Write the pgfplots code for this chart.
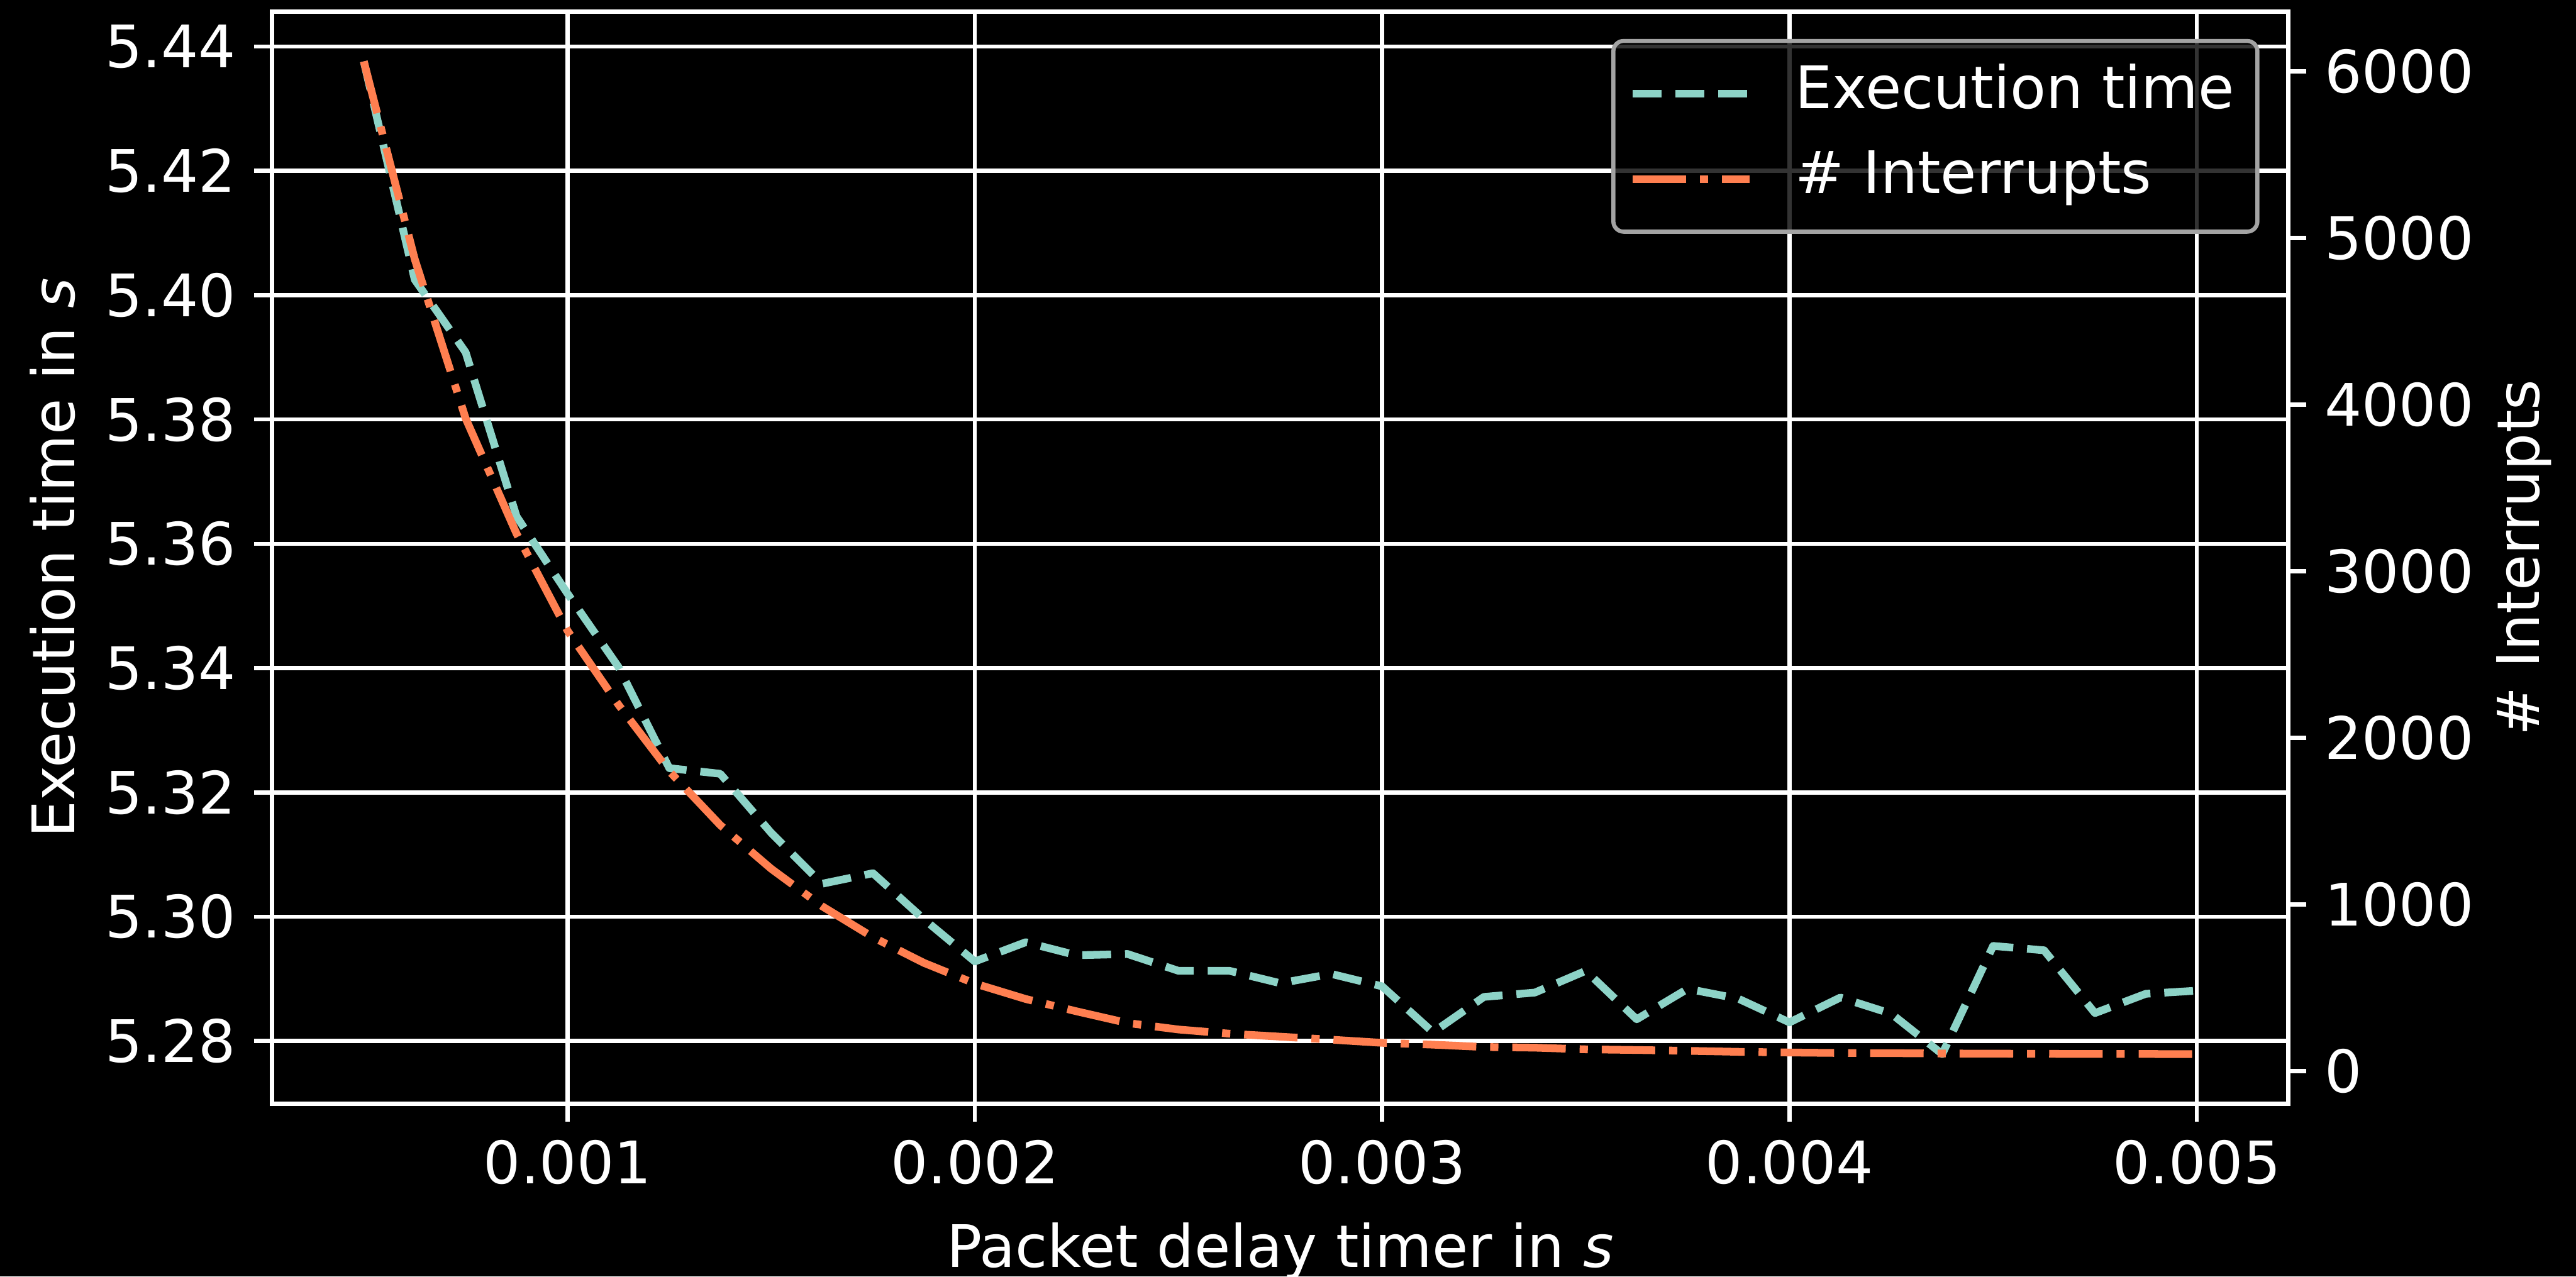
\documentclass[border=0pt]{standalone}
\usepackage{fontspec}
\setmainfont{DejaVu Sans}
\usepackage{pgfplots}
\pgfplotsset{compat=1.18}
\usepackage{pgfplotstable}
\definecolor{tealc}{HTML}{8DD3C7}
\definecolor{coralc}{HTML}{FF7F50}
\definecolor{legedge}{HTML}{A3A3A3}

\pgfplotstableread{
x t n
0.000500 5.4376 6061
0.000625 5.4025 4874
0.000750 5.3908 3918
0.000875 5.3644 3226
0.001000 5.3520 2644
0.001125 5.3402 2200
0.001250 5.3239 1800
0.001375 5.3230 1477
0.001500 5.3135 1215
0.001625 5.3053 990
0.001750 5.3070 804
0.001875 5.2996 650
0.002000 5.2928 526
0.002125 5.2959 433
0.002250 5.2938 359
0.002375 5.2940 289
0.002500 5.2913 250
0.002625 5.2913 225
0.002750 5.2893 207
0.002875 5.2908 189
0.003000 5.2888 170
0.003125 5.2814 159
0.003250 5.2871 145
0.003375 5.2878 141
0.003500 5.2913 131
0.003625 5.2835 127
0.003750 5.2884 122
0.003875 5.2868 116
0.004000 5.2830 112
0.004125 5.2870 109
0.004250 5.2844 108
0.004375 5.2779 106
0.004500 5.2953 105
0.004625 5.2946 104
0.004750 5.2845 103
0.004875 5.2876 103
0.005000 5.2881 102
}\datatab

\pgfplotsset{
  common/.style={
    scale only axis, width=392.04pt, height=212.4pt,
    at={(0pt,0pt)}, anchor=south west,
    xmin=0.000275, xmax=0.005225,
    scaled x ticks=false, scaled y ticks=false,
    axis line style={white, line width=0.8pt},
    tick style={white, line width=0.8pt},
    major tick length=3.5pt, tick align=outside,
    tick label style={text=white, font=\fontsize{11.4pt}{13.7pt}\selectfont},
    xtick={0.001,0.002,0.003,0.004,0.005},
  },
}

\begin{document}
\begin{tikzpicture}[font=\fontsize{11.4pt}{13.7pt}\selectfont]
\fill[black] (-52.92pt,-33.6pt) rectangle (447.96pt,214.68pt);
\begin{axis}[common,
  ymin=5.2699, ymax=5.4456,
  ytick={5.28,5.30,5.32,5.34,5.36,5.38,5.40,5.42,5.44},
  yticklabels={5.28,5.30,5.32,5.34,5.36,5.38,5.40,5.42,5.44},
  xticklabels={0.001,0.002,0.003,0.004,0.005},
  xtick pos=bottom, ytick pos=left,
  grid=major, major grid style={white, line width=0.8pt},
  xlabel={Packet delay timer in \textit{s}},
  ylabel={Execution time in \textit{s}},
  every axis x label/.style={at={(axis description cs:0.5,-0.1497)}, anchor=base, text=white},
  every axis y label/.style={at={(axis description cs:-0.098,0.5)}, rotate=90, anchor=base, text=white},
]
\addplot[tealc, line width=1.5pt, dash pattern=on 5.6pt off 2.7pt, line join=round] table[x=x,y=t]{\datatab};
\end{axis}
\begin{axis}[common,
  ymin=-196, ymax=6359,
  axis x line=none, axis y line*=right,
  ytick={0,1000,2000,3000,4000,5000,6000},
  yticklabels={0,1000,2000,3000,4000,5000,6000},
  ylabel={\# Interrupts},
  every axis y label/.style={at={(axis description cs:1.1245,0.5)}, rotate=90, anchor=base, text=white},
  legend cell align=left,
  legend image code/.code={\draw[#1] (0pt,0pt) -- (22.7pt,0pt);},
  legend style={at={(axis description cs:1,1)}, anchor=north east,
    xshift=-5.64pt, yshift=-5.28pt,
    fill=black, fill opacity=0.8, text opacity=1, draw=legedge, draw opacity=1,
    line width=0.8pt, rounded corners=2pt, text=white,
    font=\fontsize{11.4pt}{13.7pt}\selectfont,
    inner xsep=3pt, inner ysep=3.3pt, row sep=2.7pt, column sep=6.7pt,
    nodes={inner sep=1.5pt, text height=8.3pt, text depth=2.6pt}},
]
\addlegendimage{tealc, line width=1.5pt, dash pattern=on 5.6pt off 2.7pt}
\addlegendentry{Execution time}
\addplot[coralc, line width=1.5pt, dash pattern=on 10.4pt off 2.7pt on 1.6pt off 2.7pt, line join=round] table[x=x,y=n]{\datatab};
\addlegendentry{\# Interrupts}
\end{axis}
\pgfresetboundingbox
\path[use as bounding box] (-52.92pt,-33.6pt) rectangle (447.96pt,214.68pt);
\end{tikzpicture}
\end{document}
